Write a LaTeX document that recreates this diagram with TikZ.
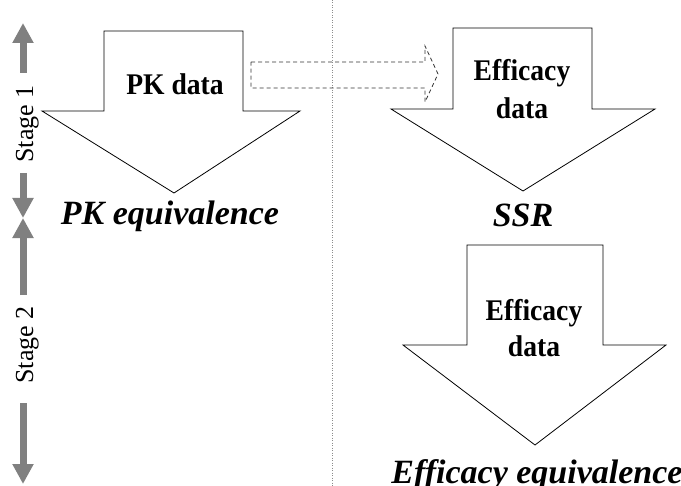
\documentclass[tikz,border=0pt]{standalone}
\usepackage{graphicx}
\usepackage{fontspec}
\setmainfont{Liberation Serif}
\usetikzlibrary{arrows.meta}
% narrow bold face for the data labels
\newcommand\narrowbold[1]{\scalebox{0.92}[1]{#1}}
\tikzset{
  blockarrow/.style={draw=black, line width=0.8bp, fill=white, line join=miter},
  flowarrow/.style={draw=black!80, line width=0.8bp, dash pattern=on 4bp off 3bp},
  stagearrow/.style={draw=black!50, line width=7bp, -{Triangle[width=20bp,length=20bp]}},
  stagelabel/.style={rotate=90, anchor=base, font=\fontsize{26bp}{30bp}\selectfont},
  datalabel/.style={anchor=base, font=\fontsize{30bp}{37bp}\selectfont\bfseries},
  resultlabel/.style={anchor=base, font=\fontsize{34bp}{40bp}\selectfont\bfseries\itshape},
  divider/.style={draw=black!45, line width=0.8bp, dash pattern=on 1bp off 1.5bp}
}
\begin{document}
\begin{tikzpicture}[x=1bp, y=-1bp]
  \useasboundingbox (0,0) rectangle (681,486);

  % stage divider
  \coordinate (divtop) at (332,0);
  \coordinate (divbot) at (332,486);
  \draw[divider] (divtop) -- (divbot);

  % PK block arrow
  \draw[blockarrow] (104,31) -- (243,31) -- (243,111) -- (300,111) -- (174,193)
    -- (42,111) -- (104,111) -- cycle;
  \node[datalabel] (pkdata) at (175,95) {\narrowbold{PK data}};
  \node[resultlabel] (pkeq) at (170,225) {PK equivalence};

  % dashed transfer arrow
  \draw[flowarrow] (251,62) -- (425,62) -- (425,46) -- (438,74) -- (425,102)
    -- (425,88) -- (251,88) -- cycle;

  % first efficacy block arrow
  \draw[blockarrow] (453,28) -- (592,28) -- (592,109) -- (655,109) -- (523,191)
    -- (391,109) -- (453,109) -- cycle;
  \node[datalabel] (eff1a) at (522,81) {\narrowbold{Efficacy}};
  \node[datalabel] (eff1b) at (522,119) {\narrowbold{data}};
  \node[resultlabel] (ssr) at (523,227) {SSR};

  % second efficacy block arrow
  \draw[blockarrow] (467,245) -- (603,245) -- (603,345) -- (666,345) -- (535,445)
    -- (403,345) -- (467,345) -- cycle;
  \node[datalabel] (eff2a) at (534,320) {\narrowbold{Efficacy}};
  \node[datalabel] (eff2b) at (534,356) {\narrowbold{data}};
  \node[resultlabel] (effeq) at (537,483) {Efficacy equivalence};

  % stage markers
  \node[stagelabel] (stage1) at (33,124) {Stage 1};
  \node[stagelabel] (stage2) at (33,345) {Stage 2};
  \coordinate (s1top) at (23,23);
  \coordinate (s1a) at (23,73);
  \coordinate (s1b) at (23,173);
  \coordinate (mid) at (23,218);
  \coordinate (s2a) at (23,295);
  \coordinate (s2b) at (23,403);
  \coordinate (s2bot) at (23,484);
  \draw[stagearrow] (s1a) -- (s1top);
  \draw[stagearrow] (s1b) -- (mid);
  \draw[stagearrow] (s2a) -- (mid);
  \draw[stagearrow] (s2b) -- (s2bot);
\end{tikzpicture}
\end{document}
